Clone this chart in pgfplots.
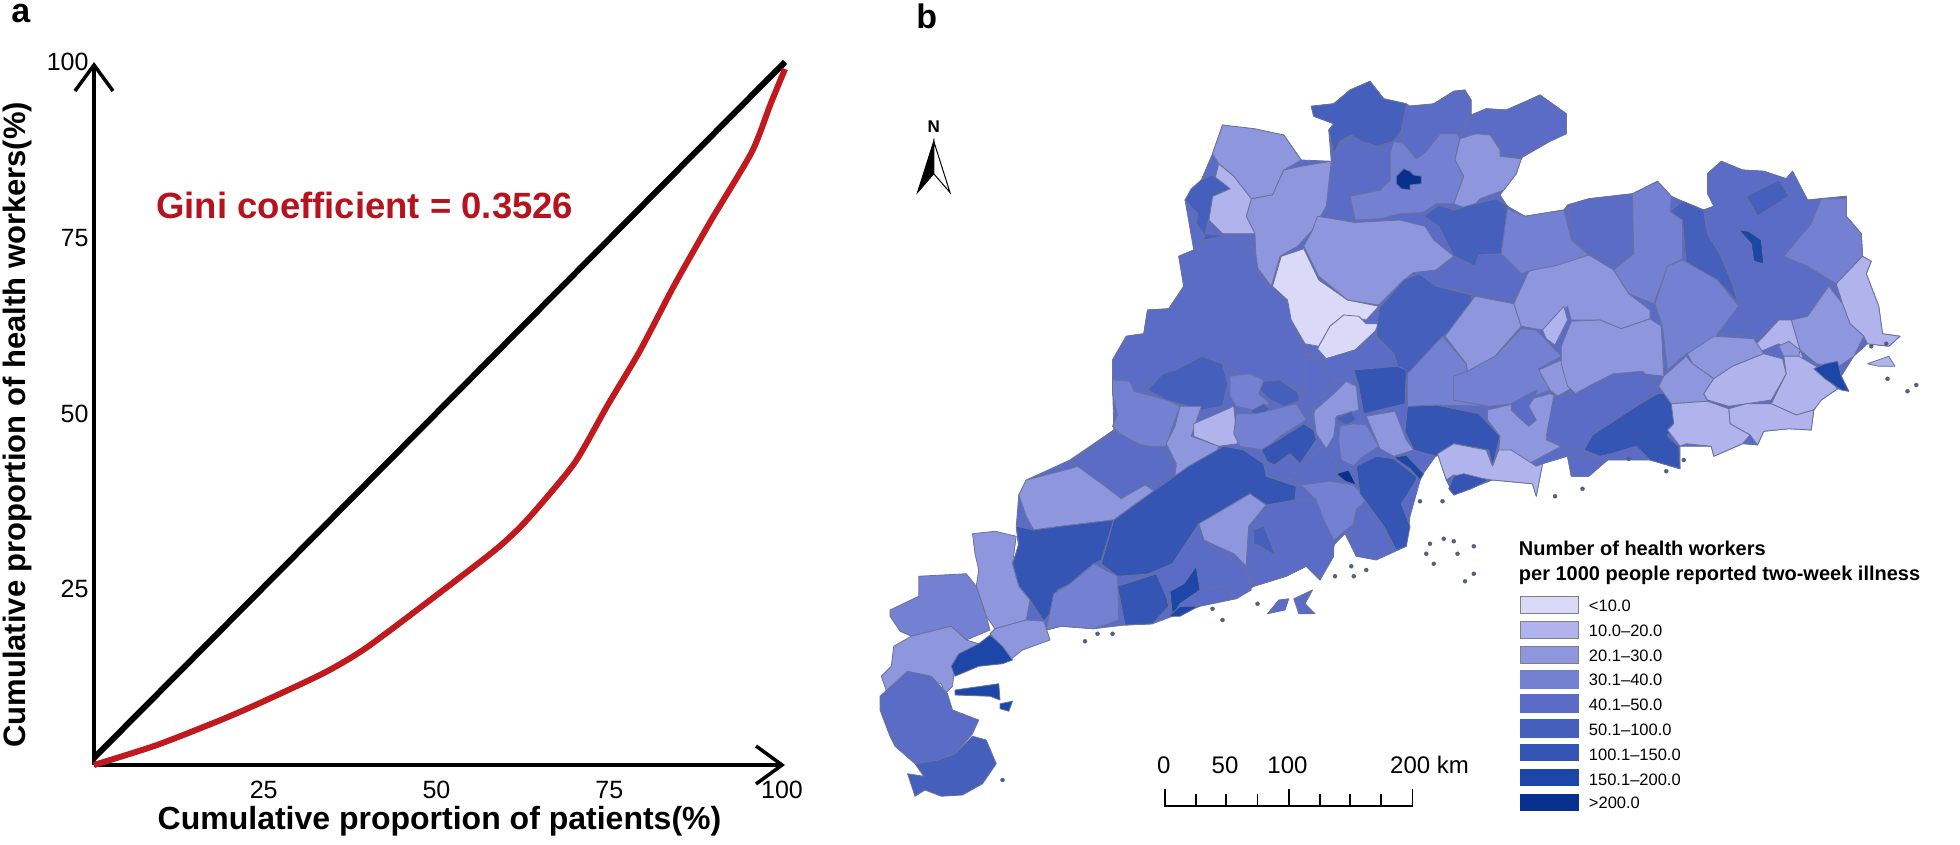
\documentclass[border=0pt]{standalone}
\usepackage{fontspec}
\setmainfont{Liberation Sans}
\usepackage{pgfplots}
\pgfplotsset{compat=1.18}
\usetikzlibrary{arrows.meta}
\definecolor{ca}{HTML}{DADAF8}
\definecolor{cb}{HTML}{B0B3EC}
\definecolor{cc}{HTML}{8E96DE}
\definecolor{cd}{HTML}{7480D2}
\definecolor{ce}{HTML}{5A6CC6}
\definecolor{cf}{HTML}{4560BC}
\definecolor{cg}{HTML}{3555B5}
\definecolor{ch}{HTML}{1C47A8}
\definecolor{ci}{HTML}{08308F}
\definecolor{bd}{HTML}{6A7299}
\definecolor{isl}{HTML}{55607F}
\definecolor{gini}{HTML}{B5141E}
\definecolor{lor}{HTML}{C01A1E}
\newcommand{\R}[2]{\addplot[forget plot,draw=bd,line width=0.8pt,fill=#1,line join=round] coordinates {#2} -- cycle;}
\newcommand{\fs}[1]{\fontsize{#1}{#1}\selectfont}
\begin{document}
\begin{tikzpicture}
\useasboundingbox (0,0) rectangle (1960pt,845pt);
\begin{axis}[at={(0pt,0pt)},anchor=south west,scale only axis,width=1960pt,height=845pt,
  xmin=0,xmax=1568,ymin=0,ymax=676,y dir=reverse,hide axis,clip=false]
% mainland base
\R{ce}{(1049,85)(1067,83)(1080,72)(1096,65)(1107,79)(1125,83)(1131,87)(1147,83)(1163,73)(1172,72)(1177,80)(1177,92)(1189,87)(1205,88)(1221,81)(1232,76)(1253,91)(1253,107)(1240,113)(1219,125)(1217,127)(1213,139)(1203,152)(1200,156)(1206,165)(1220,173)(1251,168)(1254,164)(1271,159)(1306,155)(1326,145)(1337,157)(1346,161)(1363,168)(1371,165)(1366,139)(1377,129)(1394,136)(1411,137)(1429,143)(1434,137)(1446,160)(1477,157)(1477,173)(1489,187)(1490,205)(1497,209)(1493,219)(1503,245)(1506,267)(1520,269)(1511,277)(1494,275)(1483,285)(1473,301)(1479,313)(1470,311)(1457,320)(1451,328)(1449,344)(1431,343)(1411,345)(1406,356)(1394,355)(1371,365)(1369,357)(1344,357)(1344,375)(1320,368)(1286,368)(1271,381)(1257,381)(1254,365)(1234,371)(1229,397)(1226,387)(1194,384)(1163,396)(1157,384)(1150,363)(1137,381)(1128,413)(1125,437)(1112,443)(1085,445)(1076,427)(1068,435)(1056,464)(1045,453)(1029,461)(1003,469)(989,479)(960,485)(938,493)(922,499)(900,500)(875,503)(849,501)(837,504)(821,496)(813,421)(815,396)(821,384)(856,368)(891,344)(890,304)(890,288)(901,269)(915,267)(918,248)(935,247)(947,229)(943,205)(955,200)(948,160)(961,144)(970,123)(978,100)(1027,108)(1041,128)(1065,129)(1063,104)(1067,99)(1051,93)}
% north
\R{cd}{(1115,113)(1123,115)(1133,127)(1141,121)(1152,107)(1165,107)(1168,111)(1164,128)(1171,141)(1163,163)(1149,163)(1138,170)(1120,171)(1104,175)(1084,176)(1080,157)(1104,152)(1112,144)(1112,123)}
\R{ce}{(1067,123)(1081,108)(1089,113)(1101,117)(1112,123)(1112,144)(1104,152)(1080,157)(1084,176)(1070,176)(1054,160)(1061,139)(1067,131)}
\R{cf}{(1049,85)(1067,83)(1080,72)(1096,65)(1107,79)(1125,83)(1127,96)(1115,113)(1101,117)(1089,113)(1081,108)(1072,113)(1067,123)(1063,104)(1067,99)(1051,93)}
\R{ce}{(1125,85)(1147,83)(1163,73)(1172,72)(1177,92)(1165,107)(1152,107)(1141,121)(1133,127)(1123,115)(1121,104)}
\R{ce}{(1177,92)(1189,87)(1205,88)(1221,81)(1232,76)(1253,91)(1253,107)(1240,113)(1219,125)(1200,125)(1200,119)(1192,108)(1179,107)(1168,111)}
\R{cc}{(1168,111)(1181,107)(1192,108)(1200,120)(1200,125)(1217,127)(1213,139)(1203,152)(1184,159)(1176,168)(1163,163)(1171,141)(1164,128)}
\R{ci}{(1117,141)(1123,135)(1128,137)(1131,140)(1137,141)(1137,147)(1128,148)(1128,152)(1121,151)(1117,147)}
% north-west
\R{cc}{(978,100)(1004,103)(1027,108)(1041,128)(1027,136)(1018,156)(1001,159)(987,141)(975,131)(970,123)}
\R{cc}{(1041,133)(1065,129)(1061,165)(1050,184)(1038,197)(1024,205)(1017,229)(1005,213)(1004,187)(997,173)(1001,159)(1018,156)(1027,136)}
\R{cb}{(975,131)(987,141)(1001,159)(997,173)(1004,187)(985,187)(978,187)(967,176)(970,157)(984,151)(972,143)}
\R{cf}{(970,140)(984,151)(970,157)(967,176)(964,187)(975,188)(982,200)(973,208)(955,203)(964,189)(957,179)(958,171)(948,160)(953,151)(961,144)}
\R{ce}{(985,188)(1004,200)(1007,219)(1017,232)(1030,240)(1033,256)(1041,275)(1047,283)(1044,315)(1033,307)(1007,307)(978,291)(961,285)(941,296)(927,304)(907,312)(898,305)(890,304)(890,288)(901,269)(915,267)(918,248)(935,247)(947,229)(943,205)(955,200)(963,192)}
\R{cf}{(930,299)(941,296)(961,285)(978,291)(982,307)(978,325)(961,328)(933,320)(918,312)}
\R{cd}{(890,304)(904,305)(907,313)(933,320)(944,325)(938,341)(933,357)(915,357)(898,349)(890,341)(894,332)(890,315)}
\R{cc}{(944,325)(961,325)(953,349)(975,357)(972,365)(950,384)(940,381)(941,371)(933,355)(940,341)}
\R{cb}{(955,339)(987,325)(990,355)(975,357)(955,349)}
\R{cd}{(984,301)(1000,299)(1011,304)(1007,315)(1016,323)(1003,328)(989,325)(984,317)}
\R{cf}{(1011,305)(1024,304)(1040,315)(1039,321)(1027,325)(1016,320)(1008,312)}
\R{cf}{(1000,329)(1011,323)(1016,327)(1007,333)}
\R{cd}{(989,331)(1005,331)(1037,323)(1045,336)(1024,349)(1011,360)(992,357)(987,347)}
\R{cg}{(1043,339)(1051,344)(1053,352)(1040,371)(1032,363)(1021,371)(1016,373)(1009,360)(1024,351)}
\R{ce}{(1044,283)(1061,288)(1070,304)(1052,323)(1050,331)(1053,347)(1047,339)(1047,325)(1038,315)(1044,315)}
\R{ca}{(1043,199)(1055,224)(1078,240)(1103,245)(1093,256)(1075,252)(1064,261)(1055,277)(1044,275)(1033,256)(1030,240)(1018,229)(1025,205)}
\R{ca}{(1064,261)(1075,252)(1087,253)(1093,259)(1103,259)(1100,265)(1084,280)(1061,287)(1054,279)}
\R{cc}{(1054,173)(1084,178)(1120,176)(1140,181)(1147,192)(1163,205)(1149,216)(1131,218)(1123,224)(1103,244)(1078,240)(1055,221)(1043,197)(1050,184)}
% centre
\R{cf}{(1139,173)(1151,164)(1163,168)(1180,163)(1197,159)(1206,165)(1204,181)(1201,203)(1183,205)(1180,213)(1163,205)(1151,181)}
\R{ce}{(1163,205)(1180,213)(1183,204)(1201,203)(1217,217)(1226,216)(1211,240)(1177,235)(1149,229)(1149,216)}
\R{cf}{(1103,247)(1123,224)(1135,219)(1149,229)(1177,236)(1179,251)(1157,267)(1129,296)(1122,305)(1115,283)(1101,269)}
\R{ce}{(1047,283)(1061,287)(1084,280)(1101,269)(1115,283)(1118,293)(1084,301)(1078,305)(1070,304)}
\R{cg}{(1083,296)(1118,293)(1125,296)(1124,323)(1091,331)(1087,309)}
\R{cc}{(1052,328)(1067,315)(1077,305)(1085,309)(1087,328)(1069,333)(1067,349)(1061,359)(1053,347)(1051,331)}
\R{cf}{(1068,335)(1081,329)(1085,336)(1077,340)}
\R{cd}{(1072,341)(1083,339)(1093,340)(1103,357)(1088,367)(1083,373)(1073,368)(1071,352)}
\R{cc}{(1093,333)(1116,329)(1125,352)(1131,360)(1115,365)(1104,359)}
\R{cg}{(1126,325)(1149,324)(1183,331)(1200,349)(1194,373)(1191,360)(1163,355)(1149,365)(1131,360)(1124,345)}
\R{cd}{(1126,299)(1154,269)(1173,291)(1174,299)(1163,301)(1163,320)(1189,325)(1149,324)(1126,325)}
\R{cc}{(1156,269)(1180,237)(1211,243)(1217,261)(1196,285)(1174,297)(1173,291)}
\R{cd}{(1163,301)(1174,297)(1196,285)(1217,263)(1229,264)(1249,285)(1231,295)(1240,312)(1211,323)(1191,325)(1163,320)}
\R{cc}{(1190,328)(1211,323)(1240,315)(1246,317)(1237,352)(1249,357)(1223,371)(1209,360)(1199,361)(1200,349)(1190,336)}
\R{ce}{(1209,323)(1223,315)(1230,312)(1226,320)(1223,325)(1229,336)(1223,341)(1214,333)(1209,328)}
\R{cc}{(1231,296)(1249,288)(1260,309)(1246,317)(1240,312)}
% east
\R{cc}{(1211,243)(1223,217)(1271,204)(1291,216)(1303,235)(1320,248)(1320,255)(1297,263)(1280,256)(1257,256)(1254,245)(1246,253)(1234,264)(1217,261)}
\R{cb}{(1234,264)(1251,245)(1254,256)(1244,276)(1237,271)}
\R{cc}{(1249,277)(1257,257)(1280,256)(1297,263)(1320,255)(1329,261)(1331,301)(1314,299)(1291,299)(1271,309)(1263,317)(1254,309)(1249,291)}
\R{ce}{(1243,317)(1260,315)(1271,309)(1291,299)(1314,297)(1326,309)(1309,325)(1274,348)(1274,357)(1254,361)(1237,349)}
\R{cg}{(1274,348)(1309,325)(1326,315)(1337,315)(1339,339)(1334,349)(1343,357)(1344,375)(1320,368)(1309,357)(1289,363)(1280,365)(1267,360)}
\R{ce}{(1254,365)(1274,365)(1286,368)(1271,381)(1257,381)}
\R{cb}{(1150,363)(1163,355)(1189,360)(1194,373)(1199,360)(1209,360)(1229,373)(1234,371)(1229,397)(1226,387)(1194,384)(1163,380)(1157,384)}
\R{cg}{(1163,381)(1171,379)(1191,384)(1177,391)(1163,396)(1159,391)}
\R{ce}{(1254,164)(1271,159)(1306,155)(1307,201)(1291,209)(1271,203)(1257,192)}
\R{cd}{(1206,167)(1220,173)(1251,168)(1257,192)(1271,204)(1243,213)(1226,216)(1217,219)(1201,203)(1204,181)}
\R{cd}{(1306,155)(1326,145)(1337,157)(1336,169)(1346,176)(1346,207)(1334,213)(1323,243)(1303,235)(1291,216)(1307,203)}
\R{cf}{(1336,169)(1346,161)(1363,168)(1366,187)(1377,205)(1386,227)(1391,243)(1374,224)(1349,211)(1346,176)}
\R{cd}{(1324,243)(1334,213)(1346,208)(1374,224)(1391,245)(1374,267)(1369,280)(1349,283)(1334,296)(1330,261)}
\R{ce}{(1363,168)(1371,165)(1366,155)(1366,139)(1377,129)(1394,136)(1411,137)(1429,143)(1434,137)(1446,160)(1457,159)(1477,157)(1477,173)(1489,187)(1490,205)(1469,227)(1463,229)(1446,253)(1411,269)(1403,269)(1374,267)(1391,245)(1386,227)(1377,205)(1366,187)}
\R{cf}{(1397,157)(1423,144)(1431,157)(1406,173)}
\R{ch}{(1391,184)(1399,185)(1409,192)(1411,211)(1403,209)(1401,195)}
\R{cd}{(1427,205)(1449,179)(1457,159)(1477,159)(1477,173)(1489,187)(1490,205)(1469,227)(1446,213)}
\R{cb}{(1469,227)(1490,205)(1497,209)(1493,219)(1503,245)(1506,267)(1520,269)(1511,277)(1494,275)(1491,269)(1480,259)(1474,243)}
\R{cc}{(1446,253)(1463,229)(1474,243)(1480,259)(1491,269)(1483,285)(1471,293)(1453,291)(1440,280)(1433,256)}
\R{cb}{(1403,277)(1411,269)(1423,256)(1433,256)(1440,280)(1443,288)(1423,275)(1409,281)}
\R{cc}{(1423,277)(1431,273)(1440,280)(1439,285)(1427,285)}
\R{cc}{(1350,283)(1371,269)(1403,271)(1411,283)(1386,293)(1371,303)(1354,291)}
\R{cc}{(1331,301)(1349,285)(1354,291)(1371,303)(1363,315)(1366,321)(1337,323)(1327,309)}
\R{cb}{(1363,315)(1371,303)(1386,293)(1411,283)(1426,287)(1429,299)(1417,320)(1397,323)(1383,325)(1366,320)}
\R{cb}{(1429,299)(1427,285)(1439,285)(1453,293)(1470,311)(1457,320)(1451,328)(1437,332)(1417,323)}
\R{ch}{(1451,295)(1460,291)(1470,289)(1473,301)(1479,313)(1473,312)(1460,303)}
\R{cb}{(1383,327)(1397,323)(1417,323)(1437,332)(1451,328)(1449,344)(1431,343)(1411,345)(1406,356)(1400,348)(1384,339)}
\R{cb}{(1337,323)(1366,321)(1383,327)(1384,339)(1400,348)(1394,355)(1371,365)(1369,357)(1349,355)(1344,357)(1334,344)(1339,339)}
\R{cb}{(1494,291)(1511,285)(1516,293)(1503,293)}
% south-west
\R{ce}{(856,368)(878,357)(891,344)(910,355)(932,360)(941,373)(938,381)(916,388)(897,399)(884,389)(862,373)}
\R{cc}{(821,384)(856,375)(862,373)(884,389)(897,399)(916,388)(924,393)(906,405)(891,416)(849,421)(827,424)(821,413)(815,396)}
\R{cg}{(813,421)(827,424)(849,421)(891,416)(881,448)(875,451)(856,467)(846,472)(840,491)(835,497)(824,480)(815,469)(810,451)(815,435)}
\R{cg}{(891,416)(924,392)(951,373)(979,357)(995,360)(1011,371)(1013,381)(1037,389)(1036,400)(1019,419)(1011,404)(1000,395)(960,419)(938,451)(922,459)(894,461)(881,451)}
\R{cc}{(959,419)(1000,395)(1013,404)(999,421)(997,453)(987,443)(963,432)}
\R{cd}{(843,475)(856,467)(875,451)(894,461)(895,496)(875,503)(849,501)(837,504)}
\R{ce}{(894,469)(919,459)(938,451)(959,419)(963,432)(997,456)(1001,472)(989,479)(979,469)(960,472)(944,483)(935,485)(922,499)(900,500)}
\R{cg}{(894,469)(925,459)(933,477)(935,485)(922,499)(900,500)}
\R{ch}{(936,473)(947,467)(957,453)(960,472)(944,483)(938,493)}
\R{ce}{(1013,404)(1036,400)(1053,400)(1059,416)(1067,432)(1067,445)(1056,464)(1045,453)(1029,461)(1003,469)(997,453)(999,421)}
\R{cf}{(1003,424)(1011,421)(1021,445)(1008,437)(1003,435)}
\R{ce}{(1011,368)(1035,379)(1059,356)(1072,376)(1067,387)(1040,389)(1035,384)(1013,381)}
\R{cd}{(1041,388)(1064,385)(1083,388)(1093,400)(1085,408)(1083,419)(1067,432)(1059,416)(1053,400)}
\R{ce}{(1085,408)(1093,400)(1109,424)(1112,443)(1101,448)(1085,445)(1079,432)(1083,419)}
\R{cg}{(1085,373)(1101,365)(1115,367)(1133,381)(1133,384)(1125,397)(1121,403)(1128,421)(1125,437)(1117,440)(1107,421)(1088,395)}
\R{ch}{(1115,366)(1125,364)(1139,379)(1136,384)(1128,375)}
\R{ci}{(1069,379)(1079,376)(1085,388)(1076,385)}
% far west
\R{cc}{(778,427)(796,425)(813,429)(810,451)(815,469)(824,480)(821,496)(796,503)(789,493)(781,469)(783,456)(780,443)}
\R{cc}{(796,503)(821,496)(835,497)(840,512)(818,520)(808,528)(799,515)(792,507)}
\R{cd}{(712,488)(735,477)(735,461)(773,459)(781,469)(789,493)(792,504)(773,512)(761,501)(729,509)(720,505)(712,493)}
\R{cc}{(715,517)(729,509)(761,501)(773,512)(783,515)(764,531)(762,549)(756,555)(753,547)(726,539)(710,555)(705,541)(713,533)}
\R{ch}{(783,515)(792,508)(802,517)(810,528)(802,531)(783,533)(764,541)(761,533)(767,523)}
\R{ch}{(764,552)(799,547)(800,560)(792,557)(764,556)}
\R{ch}{(800,563)(810,561)(807,569)(800,567)}
\R{ce}{(704,557)(726,537)(745,541)(758,555)(762,568)(783,576)(778,587)(764,603)(751,608)(732,611)(716,597)(712,589)(704,568)}
\R{cf}{(732,611)(751,608)(764,603)(778,589)(789,592)(797,611)(786,627)(770,636)(753,637)(740,632)(732,637)(726,619)(739,621)}
\R{ce}{(1014,491)(1023,480)(1031,479)(1028,488)}
\R{ce}{(1035,479)(1050,472)(1044,483)(1052,491)(1039,491)}
\R{ch}{(935,493)(944,485)(959,485)(944,493)}
% small islands
\addplot[forget plot,only marks,mark=*,mark size=2pt,color=isl] coordinates {(1144,435)(1155,431)(1163,433)(1141,443)(1147,451)(1166,443)(1179,437)(1172,465)(1179,459)(1068,461)(1083,461)(970,487)(978,496)(868,513)(878,507)(890,507)(1006,483)(802,624)(1244,397)(1266,391)(1154,401)(1136,401)(1533,308)(1526,313)(1510,303)(1497,277)(1509,275)(1333,377)(1303,367)(1347,368)(1093,456)(1081,453)};
% north arrow
\addplot[forget plot,fill=black,draw=black,line width=1pt] coordinates {(747,113)(734,154)(747,139)} -- cycle;
\addplot[forget plot,fill=white,draw=black,line width=1pt] coordinates {(747,113)(760,154)(747,139)} -- cycle;
\node[font=\fs{17}\bfseries] at (axis cs:747,101) {N};
% scale bar
\addplot[forget plot,black,line width=1.6pt] coordinates {(932,631)(932,645)(1130,645)(1130,631)};
\addplot[forget plot,black,line width=1.6pt] coordinates {(1031,631)(1031,645)};
\addplot[forget plot,black,line width=1.6pt] coordinates {(957,635)(957,645)};
\addplot[forget plot,black,line width=1.6pt] coordinates {(981,635)(981,645)};
\addplot[forget plot,black,line width=1.6pt] coordinates {(1006,635)(1006,645)};
\addplot[forget plot,black,line width=1.6pt] coordinates {(1056,635)(1056,645)};
\addplot[forget plot,black,line width=1.6pt] coordinates {(1080,635)(1080,645)};
\addplot[forget plot,black,line width=1.6pt] coordinates {(1105,635)(1105,645)};
\node[font=\fs{24},anchor=base] at (axis cs:931,619) {0};
\node[font=\fs{24},anchor=base] at (axis cs:980,619) {50};
\node[font=\fs{24},anchor=base] at (axis cs:1030,619) {100};
\node[font=\fs{24},anchor=base west,inner sep=0pt] at (axis cs:1112,619) {200 km};
% legend
\node[font=\fs{20}\bfseries,anchor=base west,inner sep=0pt] at (axis cs:1215,444) {Number of health workers};
\node[font=\fs{20}\bfseries,anchor=base west,inner sep=0pt] at (axis cs:1215,464) {per 1000 people reported two-week illness};
\addplot[forget plot,fill=ca,draw=gray,line width=1pt] coordinates {(1216,477)(1263,477)(1263,491)(1216,491)} -- cycle;
\addplot[forget plot,fill=cb,draw=gray,line width=1pt] coordinates {(1216,497)(1263,497)(1263,511)(1216,511)} -- cycle;
\addplot[forget plot,fill=cc,draw=gray,line width=1pt] coordinates {(1216,517)(1263,517)(1263,531)(1216,531)} -- cycle;
\addplot[forget plot,fill=cd,draw=none] coordinates {(1216,536)(1263,536)(1263,551)(1216,551)} -- cycle;
\addplot[forget plot,fill=ce,draw=none] coordinates {(1216,555)(1263,555)(1263,570)(1216,570)} -- cycle;
\addplot[forget plot,fill=cf,draw=none] coordinates {(1216,575)(1263,575)(1263,590)(1216,590)} -- cycle;
\addplot[forget plot,fill=cg,draw=none] coordinates {(1216,595)(1263,595)(1263,609)(1216,609)} -- cycle;
\addplot[forget plot,fill=ch,draw=none] coordinates {(1216,615)(1263,615)(1263,629)(1216,629)} -- cycle;
\addplot[forget plot,fill=ci,draw=none] coordinates {(1216,635)(1263,635)(1263,649)(1216,649)} -- cycle;
\node[font=\fs{16.5},anchor=base west,inner sep=0pt] at (axis cs:1271,489) {<10.0};
\node[font=\fs{16.5},anchor=base west,inner sep=0pt] at (axis cs:1271,509) {10.0–20.0};
\node[font=\fs{16.5},anchor=base west,inner sep=0pt] at (axis cs:1271,529) {20.1–30.0};
\node[font=\fs{16.5},anchor=base west,inner sep=0pt] at (axis cs:1271,548) {30.1–40.0};
\node[font=\fs{16.5},anchor=base west,inner sep=0pt] at (axis cs:1271,568) {40.1–50.0};
\node[font=\fs{16.5},anchor=base west,inner sep=0pt] at (axis cs:1271,588) {50.1–100.0};
\node[font=\fs{16.5},anchor=base west,inner sep=0pt] at (axis cs:1271,608) {100.1–150.0};
\node[font=\fs{16.5},anchor=base west,inner sep=0pt] at (axis cs:1271,628) {150.1–200.0};
\node[font=\fs{16.5},anchor=base west,inner sep=0pt] at (axis cs:1271,647) {>200.0};
% panel letters
\node[font=\fs{34}\bfseries,anchor=base west,inner sep=0pt] at (axis cs:9,18) {a};
\node[font=\fs{34}\bfseries,anchor=base west,inner sep=0pt] at (axis cs:733,23) {b};
\end{axis}
\begin{axis}[at={(94pt,80pt)},anchor=south west,scale only axis,width=691pt,height=703pt,
  xmin=0,xmax=100,ymin=0,ymax=100,clip=false,
  axis lines=left,
  axis line style={line width=3.5pt,-{Straight Barb[length=26pt,width=38pt,line width=3.5pt]}},
  xtick={25,50,75,100},ytick={25,50,75,100},
  major tick length=0pt,
  /pgf/number format/assume math mode=true,
  tick label style={font=\fs{25}},
  xticklabel style={yshift=-13pt,xshift=-3pt},
  yticklabel style={xshift=-2pt},
  xlabel={\fs{32}\bfseries Cumulative proportion of patients(\%)},
  ylabel={\fs{31}\bfseries Cumulative proportion of health workers(\%)},
  xlabel style={at={(axis description cs:0.5,-0.08)},anchor=center},
  ylabel style={at={(axis description cs:-0.111,0.484)},anchor=center}]
\addplot[black,line width=6pt] coordinates {(0,1)(100,100)};
\addplot[lor,line width=6pt,line join=round,smooth,tension=0.4] coordinates {(0,0)(9,2.8)(18.1,6.3)(24.2,8.9)(33.3,13.1)(39.3,16.6)(49.1,23.8)(58.2,30.7)(62.7,34.9)(69.5,42.9)(74.4,51.3)(79,58.9)(83.9,68.1)(89.2,77.3)(95.2,87.2)(97.9,94)(100,99)};
\node[font=\fs{36.5}\bfseries,text=gini,anchor=west,inner sep=0pt] at (axis cs:9,79.6) {Gini coefficient = 0.3526};
\end{axis}
\end{tikzpicture}
\end{document}
